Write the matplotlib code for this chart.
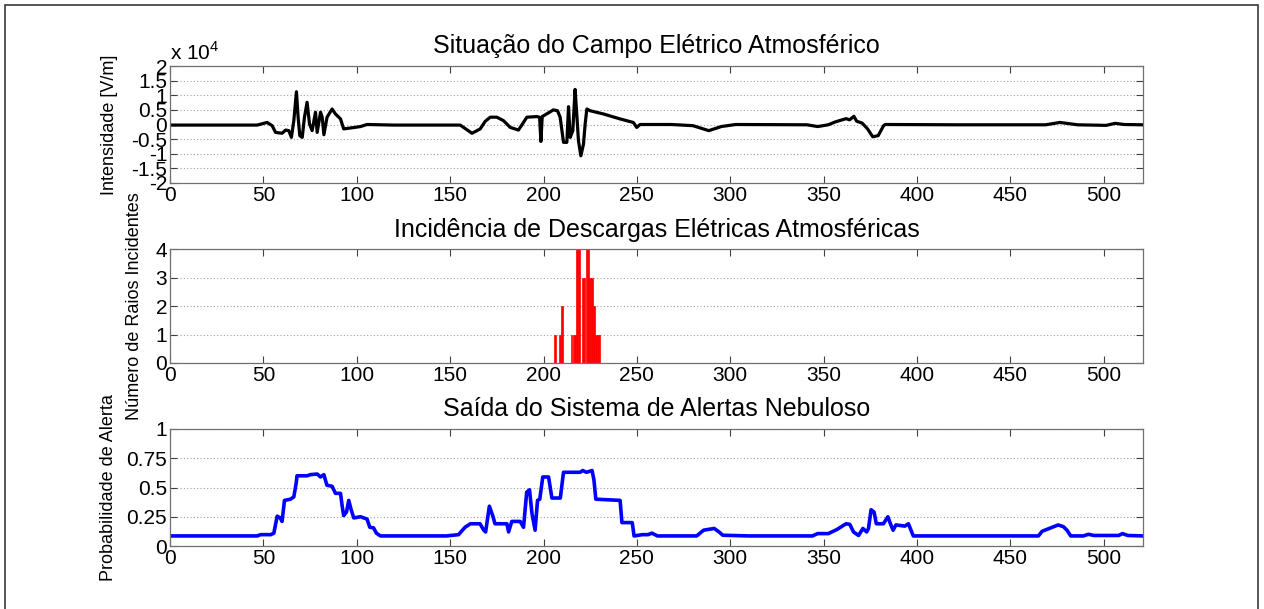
import matplotlib
matplotlib.use("Agg")
import matplotlib.pyplot as plt
from matplotlib.patches import Rectangle

plt.rcParams['font.family'] = ['Liberation Sans', 'DejaVu Sans']
plt.rcParams['mathtext.fontset'] = 'custom'
plt.rcParams['mathtext.rm'] = 'Liberation Sans'

# ---- Data ----
# Electric field (units of 10^4 V/m)
field_t = [0, 46.7, 52, 54.7, 56.5, 60, 61.9, 63.6, 65, 66.3, 67.7, 68.6, 69.5, 70.8, 72,
           73.4, 74.7, 76.1, 77.9, 78.8, 80.6, 81.5, 82.4, 84.1, 86.8, 88.6, 91.3, 93,
           96.6, 102, 105.5, 119.8, 155.4, 161.7, 166.1, 168.8, 171.5, 175, 178.6, 182.2,
           186.6, 191.1, 196.4, 197.9, 198.6, 199.3, 205.3, 207.5, 208.9, 210.7, 212.5,
           213.4, 214.3, 215.7, 216.9, 217.8, 218.7, 220, 221.4, 222.3, 223.2, 225, 232.1,
           241, 248.1, 249.9, 251.7, 268.5, 280, 288.5, 295.2, 302.9, 341, 346.8, 352.5,
           356.3, 362, 363.9, 366.2, 367.7, 370.6, 373.5, 376.3, 379.2, 382.1, 383, 421.2,
           468.9, 476.5, 486, 501.3, 506.1, 510.9, 521]
field_v = [-0.02, -0.02, 0.07, -0.04, -0.27, -0.3, -0.19, -0.21, -0.44, 0.13, 1.12, 0.25,
           -0.38, -0.44, 0.25, 0.76, 0.02, -0.21, 0.42, -0.27, 0.42, 0.25, -0.35, 0.25, 0.53,
           0.36, 0.19, -0.15, -0.12, -0.07, 0.0, -0.02, -0.02, -0.3, -0.15, 0.11, 0.25, 0.25,
           0.13, -0.1, -0.19, 0.25, 0.27, 0.25, -0.58, 0.27, 0.5, 0.47, 0.25, -0.61, -0.61,
           0.61, -0.44, -0.21, 1.2, 0.36, -0.55, -1.07, -0.67, 0.02, 0.53, 0.47, 0.36, 0.19,
           0.07, -0.1, 0.0, 0.0, -0.04, -0.21, -0.07, 0.0, -0.01, -0.07, -0.01, 0.09, 0.2,
           0.16, 0.28, 0.11, 0.05, -0.15, -0.42, -0.38, -0.04, 0.0, -0.01, -0.01, 0.07, -0.01,
           -0.03, 0.04, 0.0, -0.01]

# Lightning strikes
strike_t = [206, 209, 210, 215, 216, 217, 218, 219, 221, 222, 223, 224, 225, 226, 227, 228, 229, 230]
strike_n = [1, 1, 2, 1, 1, 1, 4, 4, 3, 3, 4, 4, 3, 3, 2, 1, 1, 1]

# Fuzzy alert system output
alert_t = [0, 46.7, 48.5, 54, 55.6, 57.4, 59, 60, 61.3, 64.5, 66.3, 67.6, 68, 73.4, 75.2,
           78.8, 80.6, 82.4, 84, 86.8, 88.6, 91.3, 92.2, 93, 94.5, 95.7, 97, 98.4, 102,
           105.5, 107, 109, 110.5, 112.7, 148, 154.5, 158, 160.8, 166, 168, 169, 171, 173,
           174, 180.4, 181.3, 183, 187.5, 189.3, 191, 192.5, 193.8, 195.5, 196.8, 198,
           199.6, 202.7, 204.5, 209, 210.7, 219.6, 221, 223, 226, 227, 228, 241, 242, 247.5,
           248.5, 253, 256, 258, 261, 282, 285.7, 291.4, 294, 296, 310, 344, 346.8, 352.5,
           357, 362, 364, 366, 368.7, 371, 373, 374, 375.4, 377, 378.2, 382, 384.4, 386,
           387.2, 388.7, 393.5, 395.4, 396.4, 398, 465, 467, 470.8, 475.6, 478.4, 480.3,
           482.3, 489, 491.8, 494.7, 508, 510, 512.8, 521]
alert_p = [0.086, 0.086, 0.097, 0.097, 0.11, 0.255, 0.24, 0.21, 0.39, 0.40, 0.42, 0.54, 0.60,
           0.60, 0.61, 0.615, 0.59, 0.61, 0.52, 0.51, 0.45, 0.45, 0.34, 0.26, 0.29, 0.39, 0.31,
           0.24, 0.25, 0.23, 0.16, 0.155, 0.11, 0.086, 0.086, 0.097, 0.16, 0.19, 0.19, 0.135,
           0.12, 0.34, 0.25, 0.19, 0.19, 0.12, 0.21, 0.21, 0.16, 0.46, 0.48, 0.28, 0.135, 0.39,
           0.40, 0.59, 0.59, 0.41, 0.41, 0.63, 0.63, 0.645, 0.63, 0.645, 0.565, 0.40, 0.39,
           0.2, 0.2, 0.086, 0.097, 0.097, 0.11, 0.086, 0.086, 0.135, 0.15, 0.12, 0.092, 0.086,
           0.086, 0.106, 0.106, 0.14, 0.19, 0.185, 0.12, 0.09, 0.15, 0.12, 0.15, 0.31, 0.29,
           0.19, 0.19, 0.25, 0.18, 0.135, 0.18, 0.17, 0.19, 0.15, 0.086, 0.086, 0.126, 0.15,
           0.18, 0.165, 0.135, 0.086, 0.086, 0.10, 0.09, 0.09, 0.106, 0.09, 0.086]

xticks = list(range(0, 501, 50))
field_ticks = [-2, -1.5, -1, -0.5, 0, 0.5, 1, 1.5, 2]
field_ticklabels = ['-2', '-1.5', '-1', '-0.5', '0', '0.5', '1', '1.5', '2']
strike_ticks = [0, 1, 2, 3, 4]
alert_ticks = [0, 0.25, 0.5, 0.75, 1]
alert_ticklabels = ['0', '0.25', '0.5', '0.75', '1']

titles = ['Situação do Campo Elétrico Atmosférico',
          'Incidência de Descargas Elétricas Atmosféricas',
          'Saída do Sistema de Alertas Nebuloso']
ylabels = ['Intensidade [V/m]', 'Número de Raios Incidentes', 'Probabilidade de Alerta']

# ---- Figure ----
W, H = 1264, 609
fig = plt.figure(figsize=(W / 100, H / 100), dpi=100)
fig.patches.append(Rectangle((5 / W, -0.05), (1258 - 5) / W, 1.05 - 5 / H,
                             transform=fig.transFigure, fill=False,
                             edgecolor='#3a3a3a', linewidth=1.2))

left, right = 170, 1143
boxes = [(66, 183), (249, 363), (429, 546)]
axes = []
for (top, bot) in boxes:
    ax = fig.add_axes([left / W, 1 - bot / H, (right - left) / W, (bot - top) / H])
    axes.append(ax)

spine_color = '#707070'
for ax in axes:
    ax.set_xlim(0, 521)
    ax.set_xticks(xticks)
    ax.tick_params(direction='in', length=5, width=0.8, color='#404040',
                   top=True, right=True, labelsize=15, pad=2)
    for s in ax.spines.values():
        s.set_color(spine_color)
        s.set_linewidth(0.9)
    ax.yaxis.grid(True, linestyle=(0, (1, 2)), color='#a0a0a0', linewidth=0.8)
    ax.set_axisbelow(True)

# Top
ax = axes[0]
ax.plot(field_t, field_v, color='black', linewidth=2.3)
ax.set_ylim(-2, 2)
ax.set_yticks(field_ticks)
ax.set_yticklabels(field_ticklabels)
ax.text(0, 1.015, r'x 10$^{4}$', transform=ax.transAxes, fontsize=15,
        ha='left', va='bottom')

# Middle
ax = axes[1]
ax.bar(strike_t, strike_n, width=0.9, color='red', edgecolor='red', linewidth=0.5)
ax.set_ylim(0, 4)
ax.set_yticks(strike_ticks)

# Bottom
ax = axes[2]
ax.plot(alert_t, alert_p, color='blue', linewidth=2.6)
ax.set_ylim(0, 1)
ax.set_yticks(alert_ticks)
ax.set_yticklabels(alert_ticklabels)

label_x = [-0.053, -0.028, -0.054]
for ax, t, yl, lx in zip(axes, titles, ylabels, label_x):
    ax.set_title(t, fontsize=18, pad=9)
    ax.set_ylabel(yl, fontsize=13)
    ax.yaxis.set_label_coords(lx, 0.5)

fig.savefig('out.png', dpi=100)
